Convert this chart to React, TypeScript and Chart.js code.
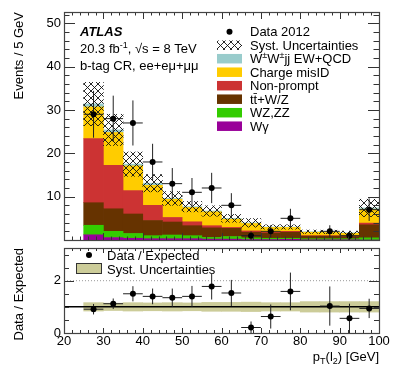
import React, { useEffect, useRef } from 'react';
import { Chart, registerables } from 'chart.js';

Chart.register(...registerables);

const FONT = '"Liberation Sans", Arial, Helvetica, sans-serif';

// ---------- data ----------
const binCenters = [27.5, 32.5, 37.5, 42.5, 47.5, 52.5, 57.5, 62.5, 67.5, 72.5, 77.5, 82.5, 87.5, 92.5, 97.5];
const xTickValues = [20, 30, 40, 50, 60, 70, 80, 90, 100];
const mainYTicks = [10, 20, 30, 40, 50];
const ratioYTicks = [0, 2];

const wGamma = [1.2, 0.55, 0.4, 0.3, 0.3, 0.3, 0.2, 0.2, 0.1, 0.1, 0.15, 0.05, 0.05, 0.05, 0.0];
const wzZZ = [2.2, 1.45, 1.1, 0.7, 0.85, 0.7, 0.4, 0.6, 0.4, 0.3, 0.25, 0.25, 0.25, 0.25, 0.5];
const ttV = [5.2, 5.2, 4.5, 3.5, 3.0, 2.3, 2.2, 1.9, 1.3, 1.2, 1.4, 0.6, 0.6, 0.5, 3.0];
const nonPrompt = [14.8, 10.0, 5.4, 3.5, 1.05, 0.9, 0.5, 0.2, 0.3, 0.2, 0.2, 0.1, 0.1, 0.1, 0.4];
const chargeMisID = [7.3, 7.6, 5.7, 4.6, 4.2, 3.3, 3.2, 1.9, 1.7, 1.1, 0.9, 0.8, 0.75, 0.65, 3.2];
const wwjj = [0.7, 0.6, 0.4, 0.5, 0.2, 0.2, 0.2, 0.2, 0.15, 0.1, 0.1, 0.1, 0.1, 0.1, 0.3];
const systUnc = [5.0, 3.6, 2.8, 2.0, 1.6, 1.2, 1.2, 0.9, 1.0, 0.5, 0.5, 0.4, 0.4, 0.4, 2.0];

const data2012 = [29, 28, 27, 18, 13, 11, 12, 8, 1, 2, 5, 0, 2, 1, 7];
const data2012Err = [5.4, 5.3, 5.2, 4.2, 3.6, 3.3, 3.5, 2.8, 1.0, 1.4, 2.2, 0, 1.4, 1.0, 2.6];

const ratioVals = [0.91, 1.12, 1.5, 1.4, 1.35, 1.4, 1.78, 1.53, 0.21, 0.63, 1.59, null, 1.03, 0.56, 0.94];
const ratioErr = [0.2, 0.2, 0.29, 0.3, 0.35, 0.4, 0.5, 0.5, 0.23, 0.46, 0.72, null, 0.75, 0.56, 0.37];
const ratioSyst = [0.16, 0.14, 0.16, 0.15, 0.16, 0.15, 0.17, 0.17, 0.18, 0.16, 0.16, 0.2, 0.2, 0.2, 0.2];

const BIN_HALF = 2.5;
const RATIO_REF = 1;
const RATIO_GUIDE = 2;

type Seg = [string, ('n' | 'sup' | 'sub')?];

const layers: { label: string; rich: Seg[]; values: number[]; color: string }[] = [
  { label: 'Wγ', rich: [['Wγ']], values: wGamma, color: '#990099' },
  { label: 'WZ,ZZ', rich: [['WZ,ZZ']], values: wzZZ, color: '#33cc00' },
  { label: 'tt̄+W/Z', rich: [['tt\u0304+W/Z']], values: ttV, color: '#663300' },
  { label: 'Non-prompt', rich: [['Non-prompt']], values: nonPrompt, color: '#cc3333' },
  { label: 'Charge misID', rich: [['Charge misID']], values: chargeMisID, color: '#ffcc00' },
  {
    label: 'W±W±jj EW+QCD',
    rich: [['W'], ['±', 'sup'], ['W'], ['±', 'sup'], ['jj EW+QCD']],
    values: wwjj,
    color: '#99cccc',
  },
];

// ---------- helpers ----------
function drawRich(
  ctx: CanvasRenderingContext2D,
  segs: Seg[],
  x: number,
  yCenter: number,
  size: number,
  align: 'left' | 'right' = 'left',
  style = ''
) {
  const small = Math.round(size * 0.72);
  const f = (s: number) => `${style}${s}px ${FONT}`;
  let total = 0;
  for (const [t, m] of segs) {
    ctx.font = f(m && m !== 'n' ? small : size);
    total += ctx.measureText(t).width;
  }
  let cx = align === 'right' ? x - total : x;
  const base = yCenter + size * 0.36;
  ctx.textAlign = 'left';
  ctx.textBaseline = 'alphabetic';
  ctx.fillStyle = '#000';
  for (const [t, m] of segs) {
    const s = m && m !== 'n' ? small : size;
    ctx.font = f(s);
    const dy = m === 'sup' ? -size * 0.4 : m === 'sub' ? size * 0.28 : 0;
    ctx.fillText(t, cx, base + dy);
    cx += ctx.measureText(t).width;
  }
}

function makeHatch(ctx: CanvasRenderingContext2D, bg?: string) {
  const c = document.createElement('canvas');
  const n = 7;
  c.width = n;
  c.height = n;
  const g = c.getContext('2d')!;
  if (bg) {
    g.fillStyle = bg;
    g.fillRect(0, 0, n, n);
  }
  g.strokeStyle = '#111';
  g.lineWidth = 0.9;
  g.beginPath();
  g.moveTo(-1, -1);
  g.lineTo(n + 1, n + 1);
  g.moveTo(n + 1, -1);
  g.lineTo(-1, n + 1);
  g.stroke();
  return ctx.createPattern(c, 'repeat')!;
}

function errorSegments(xs: number[], ys: (number | null)[], errs: (number | null)[]) {
  const pts: { x: number; y: number | null }[] = [];
  xs.forEach((x, i) => {
    const y = ys[i];
    const e = errs[i];
    if (y == null || e == null || y <= 0) return;
    pts.push({ x: x - BIN_HALF, y }, { x: x + BIN_HALF, y }, { x, y: null });
    pts.push({ x, y: y - e }, { x, y: y + e }, { x, y: null });
  });
  return pts;
}

type TickCfg = {
  xMinor: number;
  xMajor: number;
  xMajLen: number;
  xMinLen: number;
  yMinor: number;
  yMajor: number;
  yMajLen: number;
  yMinLen: number;
};

function frameTicksPlugin(cfg: TickCfg) {
  return {
    id: 'frameTicks',
    afterDatasetsDraw(chart: any) {
      const { ctx, chartArea: a, scales } = chart;
      const xs = scales.x;
      const ys = scales.y;
      ctx.save();
      ctx.strokeStyle = '#333';
      ctx.lineWidth = 1;
      ctx.beginPath();
      const isMajor = (v: number, m: number) => Math.abs(v / m - Math.round(v / m)) < 1e-6;
      for (let v = xs.min; v <= xs.max + 1e-9; v += cfg.xMinor) {
        const px = Math.round(xs.getPixelForValue(v)) + 0.5;
        const len = isMajor(v, cfg.xMajor) ? cfg.xMajLen : cfg.xMinLen;
        ctx.moveTo(px, a.bottom);
        ctx.lineTo(px, a.bottom - len);
        ctx.moveTo(px, a.top);
        ctx.lineTo(px, a.top + len);
      }
      for (let v = ys.min; v <= ys.max + 1e-9; v += cfg.yMinor) {
        const py = Math.round(ys.getPixelForValue(v)) + 0.5;
        const len = isMajor(v, cfg.yMajor) ? cfg.yMajLen : cfg.yMinLen;
        ctx.moveTo(a.left, py);
        ctx.lineTo(a.left + len, py);
        ctx.moveTo(a.right, py);
        ctx.lineTo(a.right - len, py);
      }
      ctx.stroke();
      ctx.lineWidth = 1.2;
      ctx.strokeStyle = '#444';
      ctx.strokeRect(Math.round(a.left) + 0.5, Math.round(a.top) + 0.5, Math.round(a.right - a.left), Math.round(a.bottom - a.top));
      ctx.restore();
    },
  };
}

const tickFont = { family: FONT, size: 13 };

export default function App() {
  const mainRef = useRef<HTMLCanvasElement>(null);
  const ratioRef = useRef<HTMLCanvasElement>(null);

  useEffect(() => {
    const mc = mainRef.current!;
    const rc = ratioRef.current!;
    const mctx = mc.getContext('2d')!;
    const hatch = makeHatch(mctx);
    const hatchLegend = makeHatch(mctx, '#ffffff');

    // cumulative stack built from the component arrays
    const base = binCenters.map(() => 0);
    const stackSets = layers.map((l) => {
      const data = binCenters.map((x, i) => {
        const lo = base[i];
        const hi = lo + l.values[i];
        base[i] = hi;
        return { x, y: [lo, hi] };
      });
      return {
        type: 'bar' as const,
        label: l.label,
        data,
        backgroundColor: l.color,
        borderWidth: 0,
        grouped: false,
        barPercentage: 1,
        categoryPercentage: 1,
      };
    });
    const totals = base.slice();

    const hatchSet = {
      type: 'bar' as const,
      label: 'Syst. Uncertainties',
      data: binCenters.map((x, i) => ({ x, y: [totals[i] - systUnc[i], totals[i] + systUnc[i]] })),
      backgroundColor: hatch,
      borderWidth: 0,
      grouped: false,
      barPercentage: 1,
      categoryPercentage: 1,
    };

    const dataPts = binCenters
      .map((x, i) => (data2012[i] > 0 ? { x, y: data2012[i] } : null))
      .filter(Boolean);

    const mainDecor = {
      id: 'mainDecor',
      afterDraw(chart: any) {
        const ctx: CanvasRenderingContext2D = chart.ctx;
        ctx.save();
        drawRich(ctx, [['ATLAS']], 80, 31.5, 13, 'left', 'italic bold ');
        drawRich(ctx, [['20.3 fb'], ['-1', 'sup'], [', √s = 8 TeV']], 80, 48.3, 13);
        drawRich(ctx, [['b-tag CR, ee+eμ+μμ']], 80, 65, 13);
        // legend
        const bx = 217;
        const bw = 25;
        const bh = 9.5;
        const tx = 250;
        const y0 = 31.7;
        const dy = 13.5;
        ctx.fillStyle = '#000';
        ctx.beginPath();
        ctx.arc(bx + bw / 2, y0, 3, 0, Math.PI * 2);
        ctx.fill();
        drawRich(ctx, [['Data 2012']], tx, y0, 13);
        ctx.fillStyle = hatchLegend;
        ctx.fillRect(bx, y0 + dy - bh / 2, bw, bh);
        drawRich(ctx, [['Syst. Uncertainties']], tx, y0 + dy, 13);
        const rev = layers.slice().reverse();
        rev.forEach((l, k) => {
          const yy = y0 + dy * (k + 2);
          ctx.fillStyle = l.color;
          ctx.fillRect(bx, yy - bh / 2, bw, bh);
          drawRich(ctx, l.rich, tx, yy, 13);
        });
        ctx.restore();
      },
    };

    const main = new Chart(mc, {
      type: 'bar',
      data: {
        datasets: [
          {
            type: 'line',
            label: 'Data 2012',
            data: dataPts as any,
            showLine: false,
            pointRadius: 3,
            pointBackgroundColor: '#000',
            pointBorderWidth: 0,
          },
          {
            type: 'line',
            label: 'Data errors',
            data: errorSegments(binCenters, data2012, data2012Err) as any,
            borderColor: '#222',
            borderWidth: 1,
            pointRadius: 0,
            spanGaps: false,
            fill: false,
          },
          hatchSet as any,
          ...(stackSets as any[]),
        ],
      },
      options: {
        responsive: false,
        devicePixelRatio: 1,
        animation: false,
        events: [],
        layout: { padding: { top: 12, right: 20, bottom: 4, left: 0 } },
        plugins: { legend: { display: false }, tooltip: { enabled: false } },
        scales: {
          x: {
            type: 'linear',
            min: 20,
            max: 100,
            offset: false,
            display: false,
            afterBuildTicks: (s: any) => {
              s.ticks = xTickValues.map((v) => ({ value: v }));
            },
          },
          y: {
            type: 'linear',
            min: 0,
            max: 52.6,
            afterBuildTicks: (s: any) => {
              s.ticks = mainYTicks.map((v) => ({ value: v }));
            },
            ticks: { font: tickFont, color: '#000', padding: 3 },
            grid: { display: false, drawTicks: false },
            border: { display: false },
            title: {
              display: true,
              text: 'Events / 5 GeV',
              align: 'end',
              font: tickFont,
              color: '#000',
              padding: { top: 12, bottom: 0 },
            },
            afterFit: (s: any) => {
              s.width = 64;
              s.paddingTop = 0;
              s.paddingBottom = 0;
            },
          },
        },
      } as any,
      plugins: [
        frameTicksPlugin({ xMinor: 2, xMajor: 10, xMajLen: 7, xMinLen: 3.5, yMinor: 2, yMajor: 10, yMajLen: 11, yMinLen: 5.5 }),
        mainDecor,
      ],
    });

    const ratioDecor = {
      id: 'ratioDecor',
      afterDraw(chart: any) {
        const ctx: CanvasRenderingContext2D = chart.ctx;
        ctx.save();
        ctx.fillStyle = '#000';
        ctx.beginPath();
        ctx.arc(89, 11, 3, 0, Math.PI * 2);
        ctx.fill();
        drawRich(ctx, [['Data / Expected']], 107, 11.5, 13);
        ctx.fillStyle = '#cccc99';
        ctx.fillRect(76, 19.5, 26, 10);
        ctx.strokeStyle = '#333';
        ctx.lineWidth = 1;
        ctx.strokeRect(76.5, 19.5, 25, 10);
        drawRich(ctx, [['Syst. Uncertainties']], 107, 25.5, 13);
        const a = chart.chartArea;
        drawRich(ctx, [['p'], ['T', 'sub'], ['(l'], ['2', 'sub'], [') [GeV]']], a.right, 112, 13, 'right');
        ctx.restore();
      },
    };

    const ratio = new Chart(rc, {
      type: 'bar',
      data: {
        datasets: [
          {
            type: 'line',
            label: 'Data / Expected',
            data: binCenters.map((x, i) => (ratioVals[i] != null ? { x, y: ratioVals[i] } : null)).filter(Boolean) as any,
            showLine: false,
            pointRadius: 3,
            pointBackgroundColor: '#000',
            pointBorderWidth: 0,
          },
          {
            type: 'line',
            label: 'ratio errors',
            data: errorSegments(binCenters, ratioVals, ratioErr) as any,
            borderColor: '#222',
            borderWidth: 1,
            pointRadius: 0,
            spanGaps: false,
            fill: false,
          },
          {
            type: 'line',
            label: 'unity',
            data: [
              { x: xTickValues[0], y: RATIO_REF },
              { x: xTickValues[xTickValues.length - 1], y: RATIO_REF },
            ],
            borderColor: '#000',
            borderWidth: 1.5,
            pointRadius: 0,
            fill: false,
          },
          {
            type: 'line',
            label: 'guide',
            data: [
              { x: xTickValues[0], y: RATIO_GUIDE },
              { x: xTickValues[xTickValues.length - 1], y: RATIO_GUIDE },
            ],
            borderColor: '#999',
            borderWidth: 1,
            borderDash: [1, 2],
            pointRadius: 0,
            fill: false,
          },
          {
            type: 'bar',
            label: 'Syst. Uncertainties',
            data: binCenters.map((x, i) => ({ x, y: [RATIO_REF - ratioSyst[i], RATIO_REF + ratioSyst[i]] })) as any,
            backgroundColor: '#cccc99',
            borderWidth: 0,
            grouped: false,
            barPercentage: 1,
            categoryPercentage: 1,
          },
        ],
      },
      options: {
        responsive: false,
        devicePixelRatio: 1,
        animation: false,
        events: [],
        layout: { padding: { top: 2, right: 20, bottom: 0, left: 0 } },
        plugins: { legend: { display: false }, tooltip: { enabled: false } },
        scales: {
          x: {
            type: 'linear',
            min: 20,
            max: 100,
            offset: false,
            afterBuildTicks: (s: any) => {
              s.ticks = xTickValues.map((v) => ({ value: v }));
            },
            ticks: { font: tickFont, color: '#000', padding: 1, autoSkip: false, maxRotation: 0 },
            grid: { display: false, drawTicks: false },
            border: { display: false },
            afterFit: (s: any) => {
              s.height = 39;
              s.paddingLeft = 0;
              s.paddingRight = 0;
            },
          },
          y: {
            type: 'linear',
            min: 0,
            max: 3.25,
            afterBuildTicks: (s: any) => {
              s.ticks = ratioYTicks.map((v) => ({ value: v }));
            },
            ticks: { font: tickFont, color: '#000', padding: 3 },
            grid: { display: false, drawTicks: false },
            border: { display: false },
            title: {
              display: true,
              text: 'Data / Expected',
              align: 'end',
              font: tickFont,
              color: '#000',
              padding: { top: 12, bottom: 0 },
            },
            afterFit: (s: any) => {
              s.width = 64;
              s.paddingTop = 0;
              s.paddingBottom = 0;
            },
          },
        },
      } as any,
      plugins: [
        frameTicksPlugin({ xMinor: 2, xMajor: 10, xMajLen: 5, xMinLen: 3, yMinor: 0.5, yMajor: 2, yMajLen: 10, yMinLen: 5 }),
        ratioDecor,
      ],
    });

    return () => {
      main.destroy();
      ratio.destroy();
    };
  }, []);

  return (
    <div style={{ position: 'absolute', left: 0, top: 0, width: 399, height: 372, background: '#fff' }}>
      <canvas ref={mainRef} width={399} height={244} style={{ position: 'absolute', left: 0, top: 0, width: 399, height: 244 }} />
      <canvas ref={ratioRef} width={399} height={128} style={{ position: 'absolute', left: 0, top: 244, width: 399, height: 128 }} />
    </div>
  );
}
